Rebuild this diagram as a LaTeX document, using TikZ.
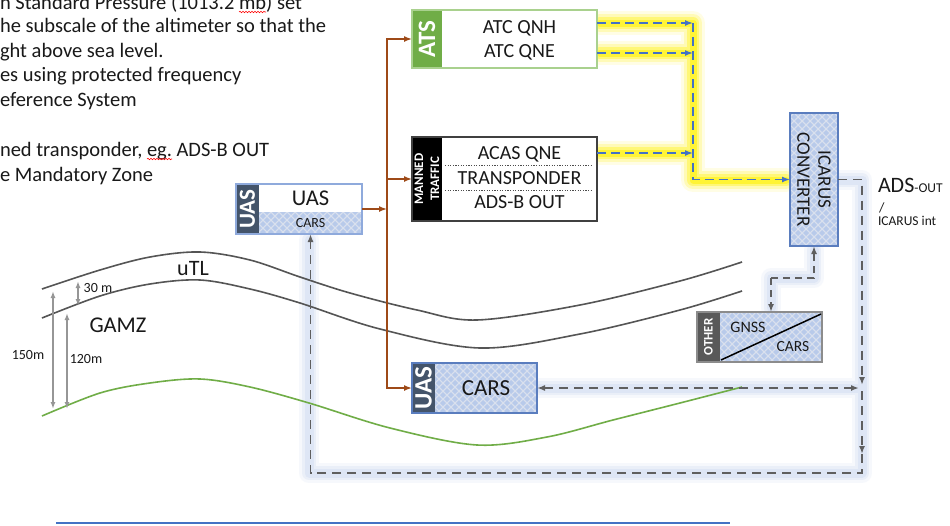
\documentclass[tikz,border=0pt]{standalone}
\usepackage{fontspec}
\setmainfont{Carlito}
\usetikzlibrary{arrows.meta,decorations.pathmorphing}
\definecolor{brownc}{RGB}{158,74,24}
\definecolor{atsgreen}{RGB}{112,173,71}
\definecolor{atsborder}{RGB}{169,209,142}
\definecolor{navy}{RGB}{68,84,106}
\definecolor{chkbg}{RGB}{218,225,238}
\definecolor{chkfg}{RGB}{184,202,234}
\definecolor{bluedash}{RGB}{68,114,196}
\definecolor{graydash}{RGB}{95,95,95}
\definecolor{glowblue}{RGB}{200,214,240}
\definecolor{curvegray}{RGB}{85,85,85}
\definecolor{dimgray}{RGB}{150,150,150}
\definecolor{uasborder}{RGB}{143,170,220}
\definecolor{boxblue}{RGB}{90,125,190}
\definecolor{othergray}{RGB}{89,89,89}
\definecolor{txt}{RGB}{25,25,25}
\definecolor{curvegreen}{RGB}{112,173,71}
\definecolor{bottomblue}{RGB}{68,114,196}

\newcommand\chkfill[4]{%
  \begin{scope}
    \clip (#1,#2) rectangle (#3,#4);
    \fill[chkbg] (#1,#2) rectangle (#3,#4);
    \pgfmathtruncatemacro\chknx{(#3-#1)/8+1}
    \pgfmathtruncatemacro\chkny{(#4-#2)/8+1}
    \foreach \i in {0,...,\chknx}{
      \foreach \j in {0,...,\chkny}{
        \fill[chkfg] ({#1+8*\i},{#2+8*\j}) +(0,-3) -- +(3,0) -- +(0,3) -- +(-3,0) -- cycle;
        \fill[chkfg] ({#1+8*\i+4},{#2+8*\j+4}) +(0,-3) -- +(3,0) -- +(0,3) -- +(-3,0) -- cycle;
      }
    }
  \end{scope}}

\tikzset{
  shapebox/.style={rectangle, inner sep=0pt, outer sep=0pt},
  lbl/.style={inner sep=0pt, outer sep=0pt, text=txt},
  striptxt/.style={inner sep=0pt, text=white, rotate=90, font=\bfseries},
  bdash/.style={draw=bluedash, line width=1.5, dash pattern=on 9 off 5},
  gdash/.style={draw=graydash, line width=1.8, dash pattern=on 9 off 6},
  gdashs/.style={draw=graydash, line width=1.6, dash pattern=on 7 off 5},
  brownarrow/.style={draw=brownc, line width=1.5},
  tipL/.style={-{Latex[length=8,width=6]}},
  tipLL/.style={{Latex[length=8,width=6]}-{Latex[length=8,width=6]}},
  curve/.style={draw=curvegray, line width=1.6},
  dimarrow/.style={draw=dimgray, line width=1.4, {Latex[length=7,width=5]}-{Latex[length=7,width=5]}},
  bodytxt/.style={lbl, anchor=base west, font=\fontsize{20.5}{24}\selectfont},
  squiggle/.style={draw=red, line width=0.6, decorate, decoration={snake, amplitude=0.7, segment length=3}},
}

\begin{document}
\begin{tikzpicture}[x=1pt,y=-1pt]
\useasboundingbox (0,0) rectangle (950,525);
\fill[white] (0,0) rectangle (950,525);

% ---------- top-left clipped text ----------
\node[bodytxt] (t1a) at (0,9) {n Standard Pressure (1013.2};
\node[bodytxt] (t1b) at ([xshift=4.6pt]t1a.base east) {mb};
\node[bodytxt] (t1c) at (t1b.base east) {) set};
\node[bodytxt] (t2) at (0,32.5) {he subscale of the altimeter so that the};
\node[bodytxt] (t3) at (0,57) {ght above sea level.};
\node[bodytxt] (t4) at (0,81.5) {es using protected frequency};
\node[bodytxt] (t5) at (0,106) {eference System};
\node[bodytxt] (t6a) at (0,156) {ned transponder,};
\node[bodytxt] (t6b) at ([xshift=4.6pt]t6a.base east) {eg.};
\node[bodytxt] (t6c) at ([xshift=4.6pt]t6b.base east) {ADS-B OUT};
\node[bodytxt] (t7) at (0,181) {e Mandatory Zone};
\draw[squiggle] ([yshift=-3pt]t1b.base west) -- ([yshift=-3pt]t1b.base east);
\draw[squiggle] ([yshift=-3pt]t6b.base west) -- ([yshift=-3pt]t6b.base east);

% ---------- glows ----------
\foreach \w/\o in {24/0.10, 18/0.2, 12/0.35, 7/0.55}{
  \draw[yellow, line width=\w, opacity=\o, line join=round, line cap=round]
    (600,23) -- (693,23) -- (693,180) -- (786,180)
    (600,53) -- (693,53)
    (600,153) -- (693,153);
}
\foreach \w/\o in {20/0.15, 14/0.25, 9/0.35}{
  \draw[glowblue, line width=\w, opacity=\o, line join=round, line cap=round]
    (840,180) -- (862,180) -- (862,473) -- (309,473) -- (309,240)
    (540,388) -- (858,388)
    (771,308) -- (771,278) -- (814,278) -- (814,250);
}

% ---------- terrain curves ----------
\draw[curve] plot[smooth, tension=0.55] coordinates {(42,289) (100,270) (150,257) (200,252) (250,260) (300,277) (350,293) (417,310) (477,320) (580,305) (680,281) (742,262)};
\draw[curve] plot[smooth, tension=0.55] coordinates {(42,318) (100,296) (150,284) (200,280) (250,289) (300,303) (380,329) (480,348) (580,334) (680,310) (742,291)};
\draw[draw=curvegreen, line width=1.6] plot[smooth, tension=0.55] coordinates {(42,416) (100,393) (150,383) (200,379) (250,387) (309,403) (390,428) (477,445) (547,437) (613,420) (680,403) (742,387)};

% dimension arrows
\draw[dimarrow] (78,281) -- (78,306);
\draw[dimarrow] (53,291) -- (53,409);
\draw[dimarrow] (67,313) -- (67,409);
\node[lbl, font=\fontsize{14}{14}\selectfont] (l30) at (98,288) {30 m};
\node[lbl, font=\fontsize{14}{14}\selectfont] (l150) at (28,355) {150m};
\node[lbl, font=\fontsize{14}{14}\selectfont] (l120) at (86,359) {120m};
\node[lbl, font=\fontsize{22}{22}\selectfont] (utl) at (193,269) {uTL};
\node[lbl, font=\fontsize{22.5}{22}\selectfont] (gamz) at (118,325) {GAMZ};

% ---------- ATS box ----------
\node[shapebox, fill=white, minimum width=185, minimum height=58, anchor=north west] (atsbox) at (412,10) {};
\node[shapebox, fill=atsgreen, minimum width=30, minimum height=58, anchor=north west] (atsstrip) at (412,10) {};
\draw[atsborder, line width=1.2] (atsbox.south west) rectangle (atsbox.north east);
\node[striptxt, font=\bfseries\fontsize{25}{25}\selectfont] (atslbl) at (atsstrip.center) {ATS};
\node[lbl, font=\fontsize{20}{20}\selectfont] (qnh) at (519.5,28.5) {ATC QNH};
\node[lbl, font=\fontsize{20}{20}\selectfont] (qne) at (519.5,52) {ATC QNE};

% ---------- Manned traffic box ----------
\node[shapebox, fill=white, minimum width=185, minimum height=84, anchor=north west] (manbox) at (412,137) {};
\node[shapebox, fill=black, minimum width=30, minimum height=84, anchor=north west] (manstrip) at (412,137) {};
\draw[black!75, line width=1.3] (manbox.south west) rectangle (manbox.north east);
\node[striptxt, align=center, font=\bfseries\fontsize{13}{16}\selectfont] (manlbl) at (manstrip.center) {MANNED\\TRAFFIC};
\node[lbl, font=\fontsize{20}{20}\selectfont] (acas) at (519.5,154) {ACAS QNE};
\node[lbl, font=\fontsize{20}{20}\selectfont] (trsp) at (519.5,178.5) {TRANSPONDER};
\node[lbl, font=\fontsize{20}{20}\selectfont] (adsb) at (519.5,202.5) {ADS-B OUT};
\draw[black!70, line width=0.8, dash pattern=on 1.2 off 1.4] (445,165.5) -- (592,165.5);
\draw[black!70, line width=0.8, dash pattern=on 1.2 off 1.4] (445,190) -- (592,190);

% ---------- UAS top box ----------
\node[shapebox, fill=white, minimum width=126, minimum height=50, anchor=north west] (uastop) at (236,184) {};
\chkfill{259}{212}{362}{234}
\node[shapebox, minimum width=103, minimum height=22, anchor=north west] (uascars) at (259,212) {};
\node[shapebox, fill=navy, minimum width=23, minimum height=50, anchor=north west] (uasstrip) at (236,184) {};
\draw[uasborder, line width=1.2] (uastop.south west) rectangle (uastop.north east);
\node[striptxt, font=\bfseries\fontsize{23}{23}\selectfont] (uaslbl) at (uasstrip.center) {UAS};
\node[lbl, font=\fontsize{22.5}{22}\selectfont] (uastxt) at (310.5,198.5) {UAS};
\node[lbl, font=\fontsize{14}{14}\selectfont] (carstxt) at (310.5,223) {CARS};

% ---------- UAS lower box ----------
\chkfill{435}{363}{537}{413}
\node[shapebox, minimum width=125, minimum height=50, anchor=north west] (lbox) at (412,363) {};
\node[shapebox, fill=navy, minimum width=23, minimum height=50, anchor=north west] (lstrip) at (412,363) {};
\draw[boxblue, line width=1.2] (lbox.south west) rectangle (lbox.north east);
\node[striptxt, font=\bfseries\fontsize{25}{25}\selectfont] (llbl) at (lstrip.center) {UAS};
\node[lbl, font=\fontsize{23}{23}\selectfont] (lcars) at (486,388) {CARS};

% ---------- ICARUS converter ----------
\chkfill{790}{113}{838}{246}
\node[shapebox, draw=boxblue, line width=1.2, minimum width=48, minimum height=133, anchor=north west] (icarus) at (790,113) {};
\node[lbl, rotate=-90, align=center, font=\fontsize{19}{21}\selectfont] (icarustxt) at (icarus.center) {ICARUS\\CONVERTER};

% ---------- OTHER box ----------
\chkfill{720}{312}{822}{362}
\node[shapebox, minimum width=102, minimum height=50, anchor=north west] (othbody) at (720,312) {};
\node[shapebox, minimum width=125, minimum height=50, anchor=north west] (othbox) at (697,312) {};
\node[shapebox, fill=othergray, minimum width=23, minimum height=50, anchor=north west] (othstrip) at (697,312) {};
\draw[black!45, line width=1.2] (othbox.south west) rectangle (othbox.north east);
\node[striptxt, font=\bfseries\fontsize{13}{13}\selectfont] (othlbl) at (othstrip.center) {OTHER};
\draw[black, line width=1.5] ([shift={(1,-2)}]othbody.south west) -- ([shift={(-1,2)}]othbody.north east);
\node[lbl, font=\fontsize{16}{16}\selectfont] (gnss) at (748,327) {GNSS};
\node[lbl, font=\fontsize{15.5}{16}\selectfont] (ocars) at (793,347) {CARS};

% ---------- ADS-OUT label ----------
\node[lbl, anchor=base west] (ads) at (878,192) {\fontsize{22}{22}\selectfont ADS{\fontsize{13.5}{14}\selectfont -OUT}};
\node[lbl, anchor=base west, font=\fontsize{14}{14}\selectfont] (slash) at (879,212) {/};
\node[lbl, anchor=base west, font=\fontsize{13.5}{14}\selectfont] (icint) at (878,225) {ICARUS int};

% ---------- brown connectors ----------
\coordinate (bt) at (387,209);
\draw[brownarrow, tipL] (uastop.east) -- (bt);
\draw[brownarrow, tipL] (bt) |- (atsbox.west);
\draw[brownarrow, tipL] (bt) |- (manbox.west);
\draw[brownarrow, tipL] (bt) |- (lbox.west);

% ---------- blue dashed connectors ----------
\coordinate (ja) at (693,23);
\coordinate (jb) at (693,53);
\coordinate (jc) at (693,153);
\draw[bdash, tipL] (atsbox.east |- ja) -- (ja);
\draw[bdash, tipL] (atsbox.east |- jb) -- (jb);
\draw[bdash, tipL] (manbox.east |- jc) -- (jc);
\draw[bdash, tipL] (ja) |- (icarus.west);

% ---------- gray dashed connectors ----------
\coordinate (kb) at (862,385);
\coordinate (kc) at (862,391);
\coordinate (kd) at (862,454);
\coordinate (ke) at (862,473);
\coordinate (kg) at (859,388);
\draw[gdash, tipL] (icarus.east) -| (kb);
\draw[gdash, tipL] (kc) -- (kd);
\draw[gdash, tipL] (kd) -- (ke) -| (uascars.south);
\draw[gdash, tipLL] (lbox.east) -- (kg);
\coordinate (gx) at (771,278);
\draw[gdashs, tipL] (gx) -| (icarus.south);
\draw[gdashs, tipL] (gx) -- (othbody.north -| gx);

% ---------- bottom blue line ----------
\draw[bottomblue, line width=2.2] (56,523) -- (730,523);
\end{tikzpicture}
\end{document}
